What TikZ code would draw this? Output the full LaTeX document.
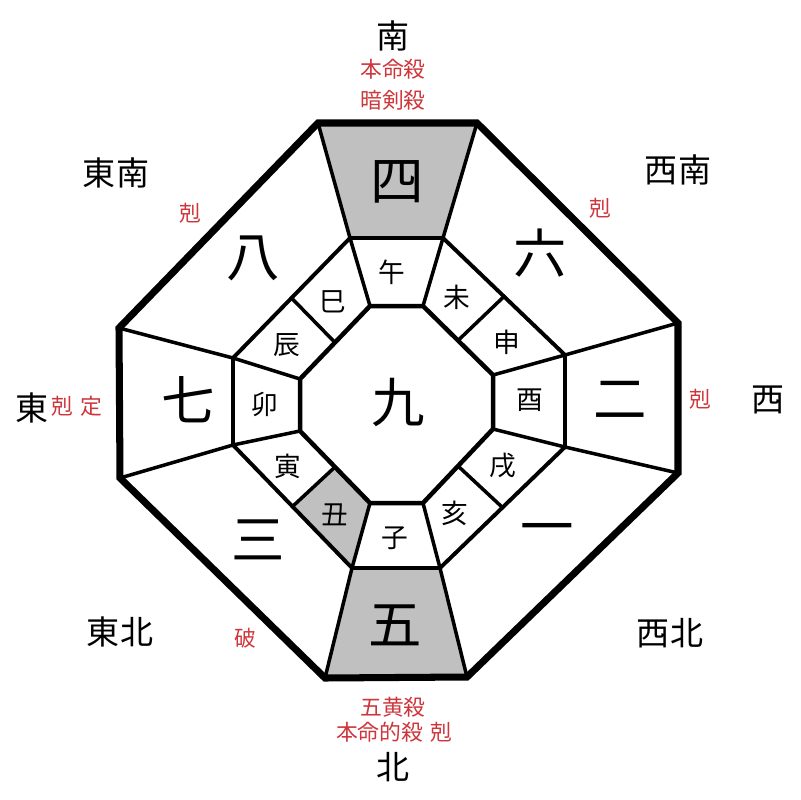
\documentclass[tikz,border=0pt]{standalone}
\usepackage{fontspec}
\setmainfont{Noto Sans CJK JP}
\usetikzlibrary{calc}
\definecolor{cellgray}{RGB}{192,192,192}
\definecolor{labred}{RGB}{205,55,60}
\tikzset{
  bignum/.style={inner sep=0pt, font=\fontsize{38}{38}\selectfont},
  zod/.style={inner sep=0pt, font=\fontsize{19}{19}\selectfont},
  dirlab/.style={inner sep=0pt, font=\fontsize{23.5}{23.5}\selectfont},
  redlab/.style={inner sep=0pt, text=labred, font=\fontsize{15.5}{15.5}\selectfont},
  outerline/.style={line width=5pt, line join=miter},
  inline/.style={line width=3.2pt, line join=miter},
  midline/.style={line width=2.8pt, line join=miter},
  thinline/.style={line width=2.5pt},
}
\begin{document}
\begin{tikzpicture}[x=0.025cm, y=-0.025cm]
\useasboundingbox (0,0) rectangle (800,800);
% outer octagon
\coordinate (o1) at (318,123); \coordinate (o2) at (477,123);
\coordinate (o3) at (678,323); \coordinate (o4) at (678,473);
\coordinate (o5) at (467,677); \coordinate (o6) at (325,678);
\coordinate (o7) at (120,478); \coordinate (o8) at (119,328);
% middle octagon
\coordinate (m1) at (350,238); \coordinate (m2) at (443,238);
\coordinate (m3) at (565,355); \coordinate (m4) at (565,447);
\coordinate (m5) at (440,568); \coordinate (m6) at (352,568);
\coordinate (m7) at (233,445); \coordinate (m8) at (233,358);
% inner octagon
\coordinate (i1) at (370,306); \coordinate (i2) at (423,306);
\coordinate (i3) at (493,375); \coordinate (i4) at (493,429);
\coordinate (i5) at (423,503); \coordinate (i6) at (370,503);
\coordinate (i7) at (300,431); \coordinate (i8) at (300,379);
% dividers on diagonal cells
\coordinate (a1) at ($(i2)!0.5!(i3)$); \coordinate (b1) at ($(m2)!0.5!(m3)$);
\coordinate (a2) at ($(i4)!0.5!(i5)$); \coordinate (b2) at ($(m4)!0.5!(m5)$);
\coordinate (a3) at ($(i6)!0.5!(i7)$); \coordinate (b3) at ($(m6)!0.5!(m7)$);
\coordinate (a4) at ($(i8)!0.5!(i1)$); \coordinate (b4) at ($(m8)!0.5!(m1)$);
% gray fills
\fill[cellgray] (o1) -- (o2) -- (m2) -- (m1) -- cycle;
\fill[cellgray] (m6) -- (m5) -- (o5) -- (o6) -- cycle;
\fill[cellgray] (i6) -- (m6) -- (b3) -- (a3) -- cycle;
% radial lines
\draw[thinline] (m1) -- (o1) (m2) -- (o2) (m3) -- (o3) (m4) -- (o4)
  (m5) -- (o5) (m6) -- (o6) (m7) -- (o7) (m8) -- (o8);
\draw[thinline] (i1) -- (m1) (i2) -- (m2) (i3) -- (m3) (i4) -- (m4)
  (i5) -- (m5) (i6) -- (m6) (i7) -- (m7) (i8) -- (m8);
\draw[thinline] (a1) -- (b1) (a2) -- (b2) (a3) -- (b3) (a4) -- (b4);
% octagons
\draw[midline] (m1) -- (m2) -- (m3) -- (m4) -- (m5) -- (m6) -- (m7) -- (m8) -- cycle;
\draw[inline] (i1) -- (i2) -- (i3) -- (i4) -- (i5) -- (i6) -- (i7) -- (i8) -- cycle;
\draw[outerline] (o1) -- (o2) -- (o3) -- (o4) -- (o5) -- (o6) -- (o7) -- (o8) -- cycle;
% numbers
\node[bignum] (n4) at (397,182) {四};
\node[bignum] (n8) at (253,258) {八};
\node[bignum] (n6) at (540,253) {六};
\node[bignum] (n7) at (188,400) {七};
\node[bignum] (n9) at (398,402) {九};
\node[bignum] (n2) at (620,400) {二};
\node[bignum] (n3) at (258,540) {三};
\node[bignum] (n1) at (547,535) {一};
\node[bignum] (n5) at (395,625) {五};
% zodiac
\node[zod] (zwu) at (392,272) {午};
\node[zod] (zwei) at (457,297) {未};
\node[zod] (zshen) at (507,342) {申};
\node[zod] (zyou) at (530,400) {酉};
\node[zod] (zxu) at (503,466) {戌};
\node[zod] (zhai) at (455,513) {亥};
\node[zod] (zzi) at (395,538) {子};
\node[zod] (zchou) at (335,515) {丑};
\node[zod] (zyin) at (288,466) {寅};
\node[zod] (zmao) at (265,404) {卯};
\node[zod] (zchen) at (287,345) {辰};
\node[zod] (zsi) at (333,302) {巳};
% directions
\node[dirlab] (dS) at (393,36) {南};
\node[dirlab] (dN) at (393,767) {北};
\node[dirlab] (dE) at (32,408) {東};
\node[dirlab] (dW) at (768,400) {西};
\node[dirlab] (dSE) at (116,173) {東南};
\node[dirlab] (dSW) at (678,170) {西南};
\node[dirlab] (dNE) at (120,632) {東北};
\node[dirlab] (dNW) at (670,633) {西北};
% red labels
\node[redlab] (r1) at (393,69) {本命殺};
\node[redlab] (r2) at (393,100) {暗剣殺};
\node[redlab] (r3) at (190,213) {剋};
\node[redlab] (r4) at (600,208) {剋};
\node[redlab] (r5) at (77,406) {剋\hspace{5pt}定};
\node[redlab] (r6) at (700,399) {剋};
\node[redlab] (r7) at (245,638) {破};
\node[redlab] (r8) at (393,707) {五黄殺};
\node[redlab] (r9) at (394,732) {本命的殺\hspace{5pt}剋};
\end{tikzpicture}
\end{document}
